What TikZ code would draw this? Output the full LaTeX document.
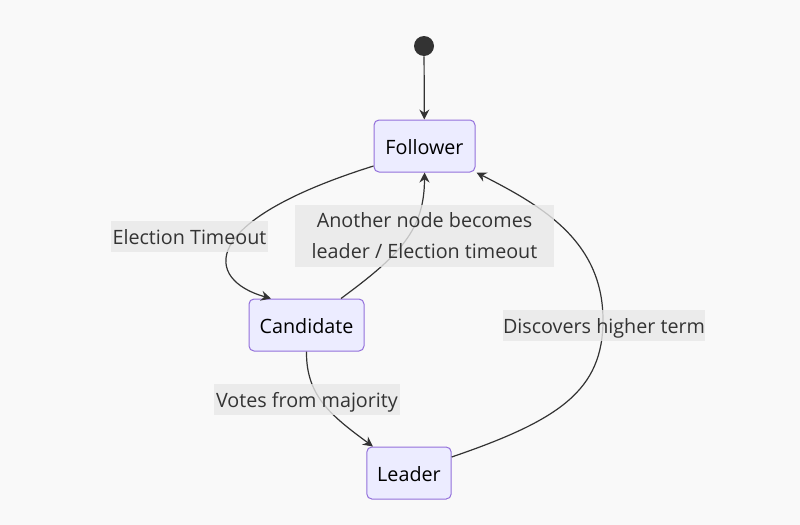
\documentclass[tikz,border=0pt]{standalone}
\usepackage{fontspec}
\setmainfont{Open Sans}
\usetikzlibrary{arrows.meta}
\definecolor{bg}{HTML}{F9F9F9}
\definecolor{nodefill}{HTML}{ECECFF}
\definecolor{nodedraw}{HTML}{9370DB}
\definecolor{edgecol}{HTML}{333333}
\definecolor{lblbg}{HTML}{E8E8E8}
\definecolor{txt}{HTML}{333333}
\begin{document}
\begin{tikzpicture}[x=0.75pt,y=-0.75pt,
  state/.style={draw=nodedraw, fill=nodefill, rounded corners=3.75pt, line width=0.75pt, inner sep=0pt, font=\fontsize{14.8}{16}\selectfont, text=black, minimum height=39pt, text height=12.5pt, text depth=0.5pt},
  lbl/.style={fill=lblbg, fill opacity=0.8, text opacity=1, text=txt, inner sep=0pt, font=\fontsize{14.8}{23.25}\selectfont, align=center},
  lblone/.style={lbl, minimum height=23.25pt, text height=12.5pt, text depth=0.5pt},
  edgeline/.style={draw=edgecol, line width=0.9pt, -{Stealth[length=7.5pt,width=7.5pt,inset=2.5pt]}}]
\useasboundingbox (0,0) rectangle (800,525);
\fill[bg] (0,0) rectangle (800,525);
\node[circle, fill=edgecol, minimum size=15pt, inner sep=0pt] (start) at (424,46) {};
\node[state, minimum width=75.75pt] (F) at (424.5,146) {Follower};
\node[state, minimum width=86.25pt] (C) at (306.5,325) {Candidate};
\node[state, minimum width=63.25pt] (L) at (409,473) {Leader};
\draw[edgeline] (start) -- (F);
\draw[edgeline] ([shift={(0,20)}]F.west) .. controls (195,222) and (205,280) .. ([shift={(-35.5,0)}]C.north);
\draw[edgeline] ([shift={(34.5,0)}]C.north) .. controls (400,255) and (424.5,230) .. (F.south);
\draw[edgeline] (C.south) .. controls (306,395) and (330,415) .. ([shift={(-36,0)}]L.north);
\draw[edgeline] ([shift={(0,-16)}]L.east) .. controls (560,420) and (603,390) .. (603,320) .. controls (603,240) and (540,205) .. ([shift={(1,0)}]F.south east);
\node[lblone, minimum width=117.75pt] (l1) at (189.5,236) {Election Timeout};
\node[lbl, minimum width=194.25pt, minimum height=46.5pt] (l2) at (424.5,236) {Another node becomes\\leader / Election timeout};
\node[lblone, minimum width=139.5pt] (l3) at (307,399.5) {Votes from majority};
\node[lblone, minimum width=151.5pt] (l4) at (604,325.5) {Discovers higher term};
\end{tikzpicture}
\end{document}
